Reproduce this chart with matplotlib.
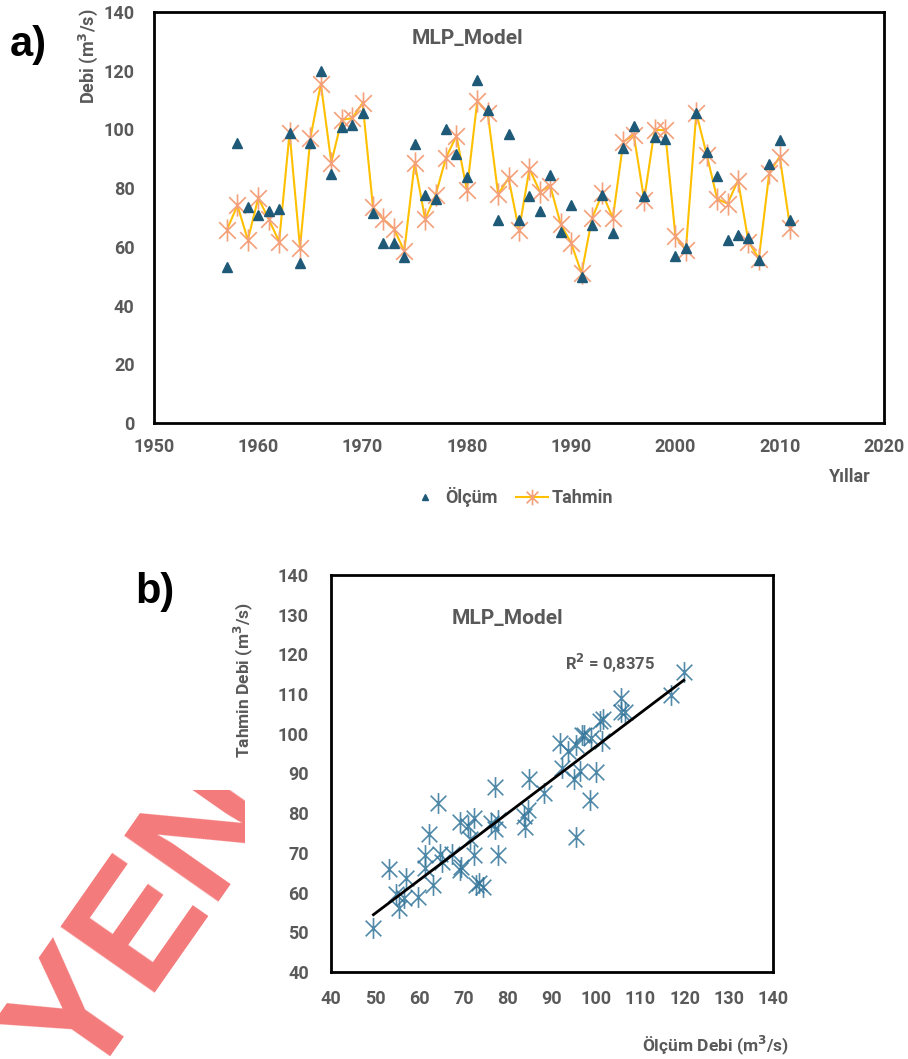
import matplotlib
matplotlib.use("Agg")
import matplotlib.pyplot as plt
import numpy as np
from matplotlib.path import Path
from matplotlib.patches import Rectangle

# yearly observed (Ölçüm) and MLP predicted (Tahmin) discharge
years = list(range(1957, 2012))
olcum = [53.1, 95.4, 73.5, 70.9, 72.3, 72.9, 98.8, 54.6, 95.4, 119.8,
         84.8, 100.8, 101.5, 105.6, 71.5, 61.3, 61.3, 56.6, 95.0, 77.8,
         76.3, 100.0, 91.8, 83.7, 116.9, 106.6, 69.2, 98.5, 69.2, 77.2,
         72.3, 84.6, 65.1, 74.3, 49.6, 67.3, 77.8, 64.6, 93.6, 101.2,
         77.2, 97.3, 96.8, 56.9, 59.7, 105.5, 92.2, 84.0, 62.2, 64.2,
         63.0, 55.4, 88.1, 96.3, 69.3]
tahmin = [65.9, 74.1, 62.4, 76.7, 69.4, 61.8, 98.9, 59.7, 97.2, 115.5,
          88.7, 103.3, 103.8, 109.0, 73.5, 69.4, 66.2, 58.6, 88.7, 69.4,
          77.6, 90.4, 97.8, 79.3, 109.7, 105.6, 77.9, 83.4, 65.6, 86.6,
          78.8, 80.7, 67.7, 61.3, 51.0, 69.7, 78.2, 69.8, 95.7, 98.2,
          76.1, 99.8, 99.8, 63.6, 58.9, 105.6, 91.4, 76.4, 74.7, 82.6,
          61.8, 56.0, 85.2, 90.7, 66.5]
r2_text = "R$^2$ = 0,8375"

GRAY = "#595959"
TEAL = "#1E5A78"
plt.rcParams['font.family'] = ['Roboto', 'DejaVu Sans']
plt.rcParams['font.weight'] = 'bold'

# excel style asterisk: X plus a vertical bar
star = Path([(0, -1), (0, 1), (-0.75, -0.75), (0.75, 0.75), (-0.75, 0.75), (0.75, -0.75)],
            [Path.MOVETO, Path.LINETO, Path.MOVETO, Path.LINETO, Path.MOVETO, Path.LINETO])

fig = plt.figure(figsize=(9.08, 10.59), dpi=100)

# watermark remains in the lower left corner
wm = fig.text(-15/908, 1-1110/1059, "YENİ", rotation=55, ha='left', va='bottom', fontsize=120,
              color="#F47A7A", fontweight='bold', family=['Liberation Sans', 'DejaVu Sans'], zorder=0)
wm.set_clip_path(Rectangle((0, 0), 245/908, 1-790/1059, transform=fig.transFigure))

def frame(ax, xpad, ypad):
    for s in ax.spines.values():
        s.set_linewidth(2)
        s.set_color("black")
    ax.tick_params(length=0, labelsize=13, labelcolor=GRAY)
    ax.tick_params(axis='x', pad=xpad)
    ax.tick_params(axis='y', pad=ypad)
    for lab in ax.get_xticklabels() + ax.get_yticklabels():
        lab.set_fontweight('bold')

# ---- a) time series
ax1 = fig.add_axes([154/908, 1-423/1059, 730/908, 411/1059])
ax1.plot(years, olcum, linestyle='none', marker='^', markersize=7, color=TEAL, label="Ölçüm", zorder=3)
ax1.plot(years, tahmin, color="#FFC000", lw=1.5, marker=star, markersize=16, markeredgewidth=1.2,
         markeredgecolor="#F4A07A", label="Tahmin", zorder=2)
ax1.set_xlim(1950, 2020)
ax1.set_ylim(0, 140)
ax1.set_xticks(range(1950, 2021, 10))
ax1.set_yticks(range(0, 141, 20))
frame(ax1, 11, 14)
ax1.text(0.43, 0.935, "MLP_Model", transform=ax1.transAxes, ha='center', va='center',
         fontsize=15, color=GRAY, fontweight='bold')
leg = ax1.legend(loc='center', bbox_to_anchor=(511/908, 1-497/1059), bbox_transform=fig.transFigure,
                 ncol=2, frameon=False, fontsize=13, handlelength=1.8, columnspacing=1.0,
                 handletextpad=0.2, markerscale=0.7)
for t in leg.get_texts():
    t.set_color(GRAY)
fig.text(88/908, 1-8/1059, "Debi (m$^3$/s)", rotation=90, ha='center', va='top',
         fontsize=13, color=GRAY, fontweight='bold')
fig.text(850/908, 1-477/1059, "Yıllar", ha='center', va='center', fontsize=13, color=GRAY,
         fontweight='bold')
fig.text(10/908, 1-45/1059, "a)", ha='left', va='center', fontsize=30, color='black',
         fontweight='bold', family=['Liberation Sans', 'DejaVu Sans'])

# ---- b) scatter
ax2 = fig.add_axes([331/908, 1-972/1059, 442/908, 397/1059])
ax2.plot(olcum, tahmin, linestyle='none', marker=star, markersize=15, markeredgewidth=1.2,
         markeredgecolor="#33759A", alpha=0.85, zorder=2)
k, b0 = np.polyfit(olcum, tahmin, 1)
xs = np.array([min(olcum), max(olcum)])
ax2.plot(xs, k*xs + b0, color='black', lw=2, zorder=3)
ax2.set_xlim(40, 140)
ax2.set_ylim(40, 140)
ax2.set_xticks(range(40, 141, 10))
ax2.set_yticks(range(40, 141, 10))
frame(ax2, 13, 16)
ax2.text(507/908, 1-618/1059, "MLP_Model", transform=fig.transFigure, ha='center', va='center',
         fontsize=15, color=GRAY, fontweight='bold')
ax2.text(610/908, 1-663/1059, r2_text, transform=fig.transFigure, ha='center', va='center',
         fontsize=12, color=GRAY, fontweight='bold')
fig.text(243/908, 1-680/1059, "Tahmin Debi (m$^3$/s)", rotation=90, ha='center', va='center',
         fontsize=12.5, color=GRAY, fontweight='bold')
fig.text(716/908, 1-1045/1059, "Ölçüm Debi (m$^3$/s)", ha='center', va='center',
         fontsize=12.5, color=GRAY, fontweight='bold')
fig.text(135/908, 1-592/1059, "b)", ha='left', va='center', fontsize=30, color='black',
         fontweight='bold', family=['Liberation Sans', 'DejaVu Sans'])

fig.savefig("out.png", dpi=100)
